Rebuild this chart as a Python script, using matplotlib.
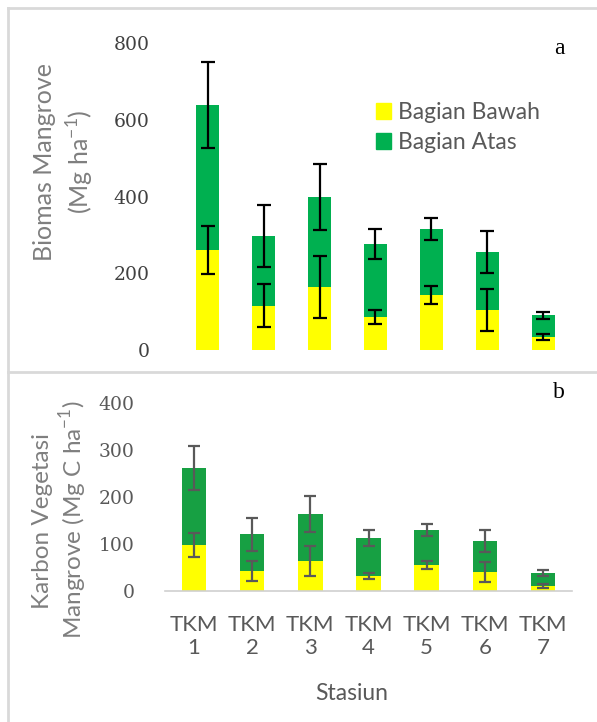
import matplotlib
matplotlib.use('Agg')
import matplotlib.pyplot as plt
from matplotlib.patches import Patch
from matplotlib.lines import Line2D
import numpy as np

stasiun = ['TKM\n1', 'TKM\n2', 'TKM\n3', 'TKM\n4', 'TKM\n5', 'TKM\n6', 'TKM\n7']

# biomas (Mg ha-1)
biomas_bawah = [260, 115, 164, 86, 143, 104, 34]
biomas_atas = [378, 182, 234, 190, 172, 151, 57]
biomas_bawah_err = [62, 56, 80, 17, 24, 55, 7]
biomas_total_err = [112, 80, 86, 40, 29, 54, 9]

# karbon (Mg C ha-1)
karbon_bawah = [98, 43, 64, 32, 55, 40, 11]
karbon_atas = [164, 78, 100, 81, 75, 67, 27]
karbon_bawah_err = [25, 21, 31, 6, 9, 21, 4]
karbon_total_err = [47, 35, 38, 17, 12, 23, 6]

W, H = 597, 722
fig = plt.figure(figsize=(W / 100, H / 100), dpi=100)

kuning = '#FFFF00'
hijau_a = '#00B050'
hijau_b = '#17A043'
font_sans = 'Lato'
font_serif = 'DejaVu Serif'


def kotak(l, b, r, t):
    return [l / W, 1 - b / H, (r - l) / W, (b - t) / H]


def gambar(ax, bawah, atas, err_b, err_t, lebar, warna_err, cap, hijau):
    x = np.arange(len(bawah))
    total = np.array(bawah) + np.array(atas)
    ax.bar(x, bawah, width=lebar, color=kuning, zorder=2)
    ax.bar(x, atas, width=lebar, bottom=bawah, color=hijau, zorder=2)
    ax.errorbar(x, bawah, yerr=err_b, fmt='none', ecolor=warna_err,
                elinewidth=1.6, capsize=cap, capthick=1.6, zorder=3)
    ax.errorbar(x, total, yerr=err_t, fmt='none', ecolor=warna_err,
                elinewidth=1.6, capsize=cap, capthick=1.6, zorder=3)
    ax.set_xlim(-0.5, len(bawah) - 0.5)
    for s in ['top', 'right', 'left', 'bottom']:
        ax.spines[s].set_visible(False)
    ax.tick_params(length=0)


# panel a
ax1 = fig.add_axes(kotak(180, 350, 571, 43))
gambar(ax1, biomas_bawah, biomas_atas, biomas_bawah_err, biomas_total_err,
       0.41, 'black', 5, hijau_a)
ax1.set_ylim(0, 800)
ax1.set_yticks([0, 200, 400, 600, 800])
ax1.set_yticklabels(['0', '200', '400', '600', '800'],
                    fontfamily=font_serif, fontsize=13.5, color='#404040')
ax1.tick_params(axis='y', pad=22)
ax1.set_xticks([])

leg = ax1.legend(handles=[Patch(color=kuning, label='Bagian Bawah'),
                          Patch(color=hijau_a, label='Bagian Atas')],
                 loc='upper left', bbox_to_anchor=(376 / W, 1 - 102 / H),
                 bbox_transform=fig.transFigure, frameon=False,
                 prop={'family': font_sans, 'size': 16.5},
                 handlelength=0.65, handleheight=0.65, handletextpad=0.3,
                 labelspacing=0.4, borderpad=0, borderaxespad=0)
for t in leg.get_texts():
    t.set_color('#595959')

# panel b
ax2 = fig.add_axes(kotak(165, 591, 572, 403.5))
gambar(ax2, karbon_bawah, karbon_atas, karbon_bawah_err, karbon_total_err,
       0.42, '#595959', 4.3, hijau_b)
ax2.set_ylim(0, 400)
ax2.set_yticks([0, 100, 200, 300, 400])
ax2.set_yticklabels(['0', '100', '200', '300', '400'],
                    fontfamily=font_serif, fontsize=13.5, color='#595959')
ax2.tick_params(axis='y', pad=22)
ax2.spines['bottom'].set_visible(True)
ax2.spines['bottom'].set_color('#D0D0D0')
ax2.spines['bottom'].set_linewidth(1.2)
ax2.set_xticks(np.arange(len(stasiun)))
ax2.set_xticklabels(stasiun, fontfamily=font_sans, fontsize=16,
                    color='#595959', linespacing=1.2)
ax2.tick_params(axis='x', pad=17)

# judul sumbu
abu = '#7F7F7F'
fig.text(45 / W, 1 - 162 / H, 'Biomas Mangrove', rotation=90, ha='center',
         va='center', fontfamily=font_sans, fontsize=18, color=abu)
fig.text(80 / W, 1 - 162 / H, '(Mg ha$^{\\mathregular{-1}}$)', rotation=90,
         ha='center', va='center', fontfamily=font_sans, fontsize=18, color=abu)
fig.text(43 / W, 1 - 521 / H, 'Karbon Vegetasi', rotation=90, ha='center',
         va='center', fontfamily=font_sans, fontsize=17.5, color=abu)
fig.text(73 / W, 1 - 520 / H, 'Mangrove (Mg C ha$^{\\mathregular{-1}}$)',
         rotation=90, ha='center', va='center', fontfamily=font_sans,
         fontsize=17.5, color=abu)
fig.text(352 / W, 1 - 693 / H, 'Stasiun', ha='center', va='center',
         fontfamily=font_sans, fontsize=16.5, color='#595959')

# huruf panel
fig.text(559 / W, 1 - 48 / H, 'a', ha='center', va='center',
         fontfamily='Liberation Serif', fontsize=17, color='black')
fig.text(559 / W, 1 - 393 / H, 'b', ha='center', va='center',
         fontfamily='Liberation Serif', fontsize=17, color='black')

# garis tepi panel
garis = '#D9D9D9'
fig.add_artist(Line2D([8 / W, 8 / W], [0, 1 - 8 / H], color=garis, lw=2))
fig.add_artist(Line2D([8 / W, 1], [1 - 8 / H, 1 - 8 / H], color=garis, lw=2))
fig.add_artist(Line2D([8 / W, 1], [1 - 372 / H, 1 - 372 / H], color=garis, lw=2))

fig.savefig('out.png', dpi=100)
